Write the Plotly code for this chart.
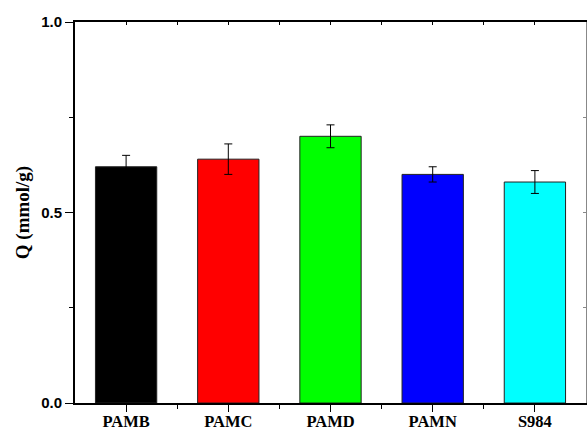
import plotly.graph_objects as go

categories = ["PAMB", "PAMC", "PAMD", "PAMN", "S984"]
q_values = [0.62, 0.64, 0.70, 0.60, 0.58]
q_errors = [0.03, 0.04, 0.03, 0.02, 0.03]
bar_colors = ["#000000", "#ff0000", "#00ff00", "#0000ff", "#00ffff"]
y_tick_vals = [0.0, 0.5, 1.0]
y_tick_text = ["0.0", "0.5", "1.0"]

positions = list(range(len(categories)))
minor_x = [p + 0.5 for p in positions[:-1]]

fig = go.Figure()
fig.add_trace(go.Bar(
    x=positions, y=q_values,
    width=0.6,
    marker=dict(color=bar_colors, line=dict(color="#222222", width=1)),
    error_y=dict(type="data", array=q_errors, visible=True, color="black",
                 thickness=1, width=4),
    showlegend=False,
))

axis_font = dict(family="Liberation Sans, Arial", size=15, color="black", weight="bold")
cat_font = dict(family="Liberation Serif, Times New Roman", size=16.5, color="black", weight="bold")
title_font = dict(family="Liberation Serif, Times New Roman", size=19, color="black", weight="bold")

fig.update_layout(
    width=587, height=430,
    margin=dict(l=75, r=1, t=22, b=27, autoexpand=False),
    paper_bgcolor="white", plot_bgcolor="white",
    xaxis=dict(
        range=[-0.5, 4.5], tickvals=positions, ticktext=categories,
        ticks="outside", ticklen=7, tickwidth=1.2, tickcolor="black",
        tickfont=cat_font, showline=True, linecolor="black", linewidth=1.5,
        showgrid=False, zeroline=False, automargin=False, ticklabelstandoff=-5,
        minor=dict(tickvals=minor_x, ticks="outside", ticklen=4, tickwidth=1.2, tickcolor="black"),
    ),
    yaxis=dict(
        range=[0, 1.0], tickvals=y_tick_vals, ticktext=y_tick_text,
        ticks="outside", ticklen=8, tickwidth=1.2, tickcolor="black",
        tickfont=axis_font, showline=True, linecolor="black", linewidth=2,
        showgrid=False, zeroline=False, automargin=False,
        minor=dict(tickvals=[0.25, 0.75], ticks="outside", ticklen=4, tickwidth=1.2, tickcolor="black"),
        title=dict(text="Q (mmol/g)", font=title_font, standoff=6),
    ),
    xaxis2=dict(
        overlaying="x", side="top", range=[-0.5, 4.5], tickvals=positions + minor_x,
        showticklabels=False, ticks="inside", ticklen=3, tickcolor="black",
        showline=True, linecolor="black", linewidth=1.5, showgrid=False, zeroline=False,
        automargin=False,
    ),
    yaxis2=dict(
        overlaying="y", side="right", range=[0, 1.0], tickvals=[0.25, 0.5, 0.75],
        showticklabels=False, ticks="inside", ticklen=3, tickcolor="#888888",
        showline=True, linecolor="#888888", linewidth=1, showgrid=False, zeroline=False,
        automargin=False,
    ),
)
fig.add_trace(go.Scatter(x=[None], y=[None], xaxis="x2", yaxis="y2", showlegend=False, hoverinfo="skip"))

fig.write_html("out.html", config={"displayModeBar": False},
               post_script="document.body.style.margin='0';document.body.style.overflow='hidden';")
